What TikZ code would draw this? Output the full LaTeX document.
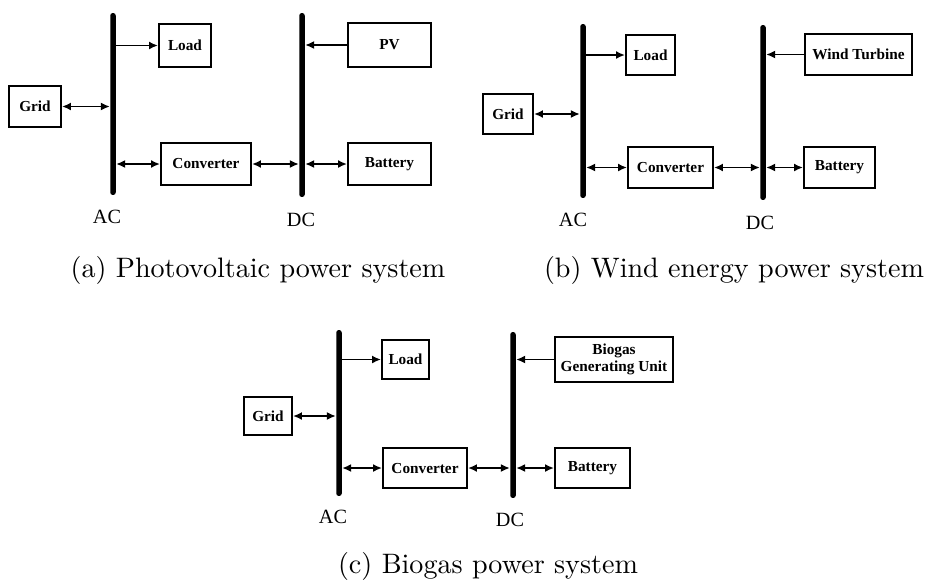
\documentclass[tikz,border=0pt]{standalone}
\usepackage{fontspec}
\usetikzlibrary{arrows.meta,positioning}
\newfontfamily\timesfont{Liberation Serif}
\newcommand{\boxfont}{\timesfont\bfseries\fontsize{8.7}{9.6}\selectfont}
\newcommand{\busfont}{\timesfont\fontsize{11.5}{13}\selectfont}
\newcommand{\subcap}[1]{\scalebox{1.6}{#1}}

\begin{document}
\begin{tikzpicture}[
  x=0.02cm, y=-0.02cm,
  unit/.style={
    draw,
    line width=1.1pt,
    inner sep=0pt,
    align=center,
    font=\boxfont
  },
  bus/.style={fill=black, inner sep=0pt, minimum width=0.11cm, rounded corners=0.05cm},
  busname/.style={font=\busfont},
  arrow/.style={-{Latex[length=1.8mm,width=1.6mm]},line width=1.1pt},
  twoway/.style={{Latex[length=1.8mm,width=1.6mm]}-{Latex[length=1.8mm,width=1.6mm]},line width=1.1pt}
]
  \useasboundingbox (0,0) rectangle (925,579);

  % (a) photovoltaic
  \node[bus,minimum height=3.64cm] (acA) at (113,104) {};
  \node[bus,minimum height=3.68cm] (dcA) at (302,105) {};
  \node[unit,minimum width=1.04cm,minimum height=0.86cm] (loadA) at (185,45.5) {Load};
  \node[unit,minimum width=1.66cm,minimum height=0.88cm] (pvA) at (389.5,45) {PV};
  \node[unit,minimum width=1.04cm,minimum height=0.82cm] (gridA) at (35,106.5) {Grid};
  \node[unit,minimum width=1.8cm,minimum height=0.84cm] (convA) at (206,164) {Converter};
  \node[unit,minimum width=1.66cm,minimum height=0.84cm] (battA) at (389.5,164) {Battery};
  \node[busname] (acnameA) at (107,217) {AC};
  \node[busname] (dcnameA) at (301,220) {DC};
  \draw[arrow] (acA.east |- loadA) -- (loadA);
  \draw[arrow] (pvA) -- (dcA.east |- pvA);
  \draw[twoway] (gridA) -- (acA.west |- gridA);
  \draw[twoway] (acA.east |- convA) -- (convA);
  \draw[twoway] (convA) -- (dcA.west |- convA);
  \draw[twoway] (dcA.east |- battA) -- (battA);
  \node (capA) at (258,270) {\subcap{(a) Photovoltaic power system}};

  % (b) wind energy
  \node[bus,minimum height=3.48cm] (acB) at (583,111) {};
  \node[bus,minimum height=3.5cm] (dcB) at (763,112.5) {};
  \node[unit,minimum width=0.98cm,minimum height=0.8cm] (loadB) at (650.5,55) {Load};
  \node[unit,minimum width=2.14cm,minimum height=0.82cm] (windB) at (858.5,54.5) {Wind Turbine};
  \node[unit,minimum width=1.0cm,minimum height=0.8cm] (gridB) at (508,114) {Grid};
  \node[unit,minimum width=1.7cm,minimum height=0.82cm] (convB) at (670.5,167.5) {Converter};
  \node[unit,minimum width=1.42cm,minimum height=0.82cm] (battB) at (839.5,167.5) {Battery};
  \node[busname] (acnameB) at (573,220) {AC};
  \node[busname] (dcnameB) at (760,223) {DC};
  \draw[arrow] (acB.east |- loadB) -- (loadB);
  \draw[arrow] (windB) -- (dcB.east |- windB);
  \draw[twoway] (gridB) -- (acB.west |- gridB);
  \draw[twoway] (acB.east |- convB) -- (convB);
  \draw[twoway] (convB) -- (dcB.west |- convB);
  \draw[twoway] (dcB.east |- battB) -- (battB);
  \node (capB) at (734,270) {\subcap{(b) Wind energy power system}};

  % (c) biogas
  \node[bus,minimum height=3.32cm] (acC) at (339,413) {};
  \node[bus,minimum height=3.32cm] (dcC) at (513,415) {};
  \node[unit,minimum width=0.94cm,minimum height=0.78cm] (loadC) at (405.5,359.5) {Load};
  \node[unit,minimum width=2.36cm,minimum height=0.9cm] (bioC) at (614,359.5) {Biogas\\Generating Unit};
  \node[unit,minimum width=0.96cm,minimum height=0.76cm] (gridC) at (268,416) {Grid};
  \node[unit,minimum width=1.68cm,minimum height=0.8cm] (convC) at (425,468) {Converter};
  \node[unit,minimum width=1.5cm,minimum height=0.8cm] (battC) at (592.5,468) {Battery};
  \node[busname] (acnameC) at (333,517) {AC};
  \node[busname] (dcnameC) at (510,520) {DC};
  \draw[arrow] (acC.east |- loadC) -- (loadC);
  \draw[arrow] (bioC) -- (dcC.east |- bioC);
  \draw[twoway] (gridC) -- (acC.west |- gridC);
  \draw[twoway] (acC.east |- convC) -- (convC);
  \draw[twoway] (convC) -- (dcC.west |- convC);
  \draw[twoway] (dcC.east |- battC) -- (battC);
  \node (capC) at (488,566) {\subcap{(c) Biogas power system}};
\end{tikzpicture}
\end{document}
